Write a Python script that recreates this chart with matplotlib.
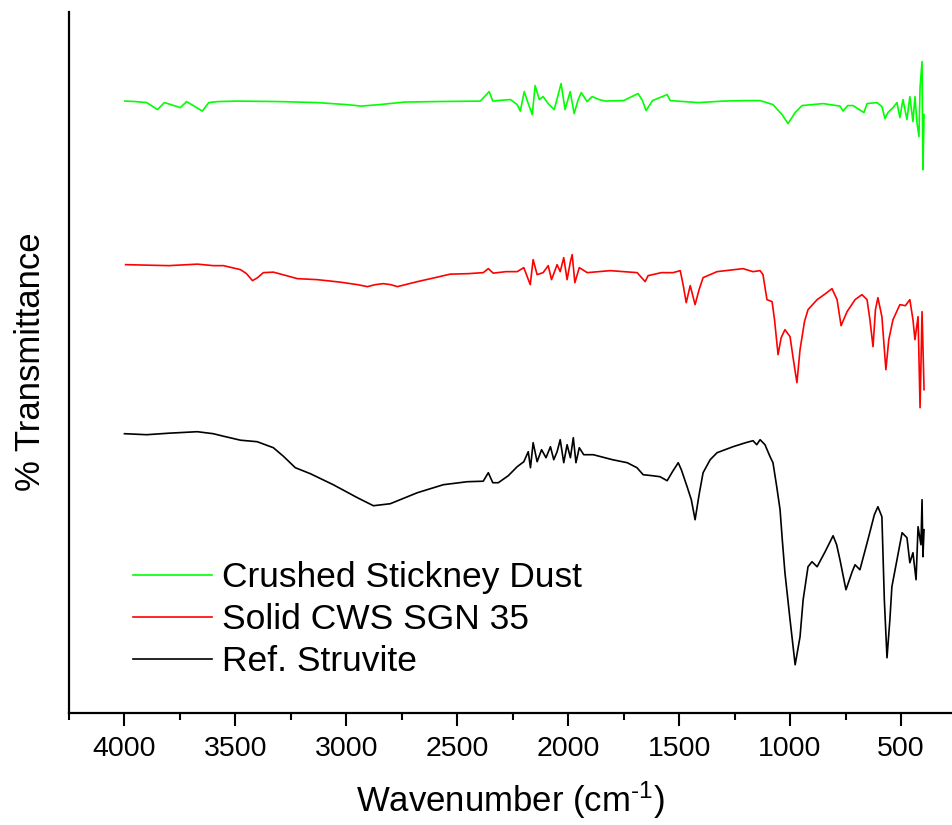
import matplotlib
matplotlib.use('Agg')
import matplotlib.pyplot as plt
from matplotlib.ticker import MultipleLocator

plt.rcParams['font.family'] = ['Liberation Sans', 'DejaVu Sans']
plt.rcParams['mathtext.fontset'] = 'custom'
plt.rcParams['mathtext.rm'] = 'Liberation Sans'
plt.rcParams['mathtext.it'] = 'Liberation Sans'

# wavenumber (cm-1) and relative transmittance (arbitrary offset units)
wn_struvite = [4000, 3900, 3800, 3672, 3600, 3554, 3477, 3402, 3329, 3284, 3230, 3162, 3059, 2950,
               2878, 2802, 2680, 2563, 2455, 2383, 2360, 2340, 2315, 2270, 2230, 2200, 2180, 2170,
               2158, 2140, 2120, 2100, 2080, 2065, 2050, 2036, 2020, 2005, 1990, 1977, 1965, 1950,
               1930, 1887, 1800, 1734, 1690, 1662, 1620, 1586, 1554, 1530, 1504, 1490, 1464, 1445,
               1428, 1410, 1392, 1360, 1329, 1257, 1200, 1167, 1150, 1135, 1113, 1090, 1077, 1060,
               1045, 1035, 1023, 1000, 977, 955, 941, 919, 901, 878, 842, 806, 790, 775, 748, 720,
               707, 685, 649, 620, 604, 586, 575, 563, 550, 541, 518, 495, 473, 460, 446, 432, 423,
               410, 405, 401, 396]
t_struvite = [279, 278, 279.5, 281, 279, 276.5, 272.5, 271, 265, 256.5, 245, 239, 228, 215,
              207, 209, 220, 228, 231, 231.5, 240, 230, 230, 237, 246, 251, 261, 245,
              270, 251, 263, 255, 266, 253, 261, 273, 250, 268, 255, 275, 250, 265,
              258, 258, 253, 250, 245, 238, 237, 236, 232, 241, 250, 243, 226, 213,
              193, 218, 240, 253, 260, 266, 270, 272, 268, 273, 268, 256, 250, 226,
              203, 173, 140, 93, 48, 76, 113, 146, 151, 146, 161, 177, 168, 153, 123, 141,
              148, 143, 173, 198, 206, 196, 113, 55, 93, 126, 153, 180, 175, 150, 160, 133, 186,
              168, 213, 156, 183]

wn_cws = [3995, 3900, 3800, 3671, 3600, 3554, 3477, 3450, 3423, 3400, 3374, 3329, 3270, 3221,
          3131, 3027, 2950, 2905, 2870, 2833, 2800, 2770, 2680, 2600, 2532, 2450, 2383, 2360,
          2338, 2280, 2230, 2200, 2171, 2158, 2140, 2113, 2090, 2075, 2050, 2036, 2020, 2005,
          1990, 1982, 1970, 1950, 1914, 1811, 1689, 1653, 1640, 1580, 1527, 1495, 1482, 1468,
          1450, 1428, 1410, 1392, 1329, 1212, 1167, 1135, 1122, 1104, 1081, 1070, 1054, 1040,
          1023, 1000, 985, 969, 955, 935, 919, 878, 840, 811, 788, 770, 743, 707, 676, 653,
          640, 626, 615, 604, 586, 568, 555, 536, 505, 480, 460, 446, 437, 423, 414, 405, 396]
t_cws = [448, 447.5, 447, 448.5, 447, 447, 443, 439, 432, 435, 440, 440.5, 437, 434,
         433, 430.5, 428, 426, 428, 429, 428, 426, 431, 435, 438.5, 439, 440, 444,
         439.5, 441, 441, 445, 428, 453, 438, 440, 447, 433, 448, 441, 455, 433,
         451, 458, 430, 445, 440, 442, 440, 431, 437, 440, 440, 442, 428, 410,
         427, 408, 423, 435, 441, 444, 441, 442, 438, 413, 411, 393, 358, 375,
         383, 376, 353, 330, 363, 391, 403, 413, 419, 424, 413, 387, 401, 413, 418, 413,
         393, 366, 403, 415, 396, 343, 373, 393, 408, 407, 413, 393, 373, 396, 305, 401, 323]

wn_dust = [3998, 3950, 3900, 3851, 3820, 3748, 3720, 3649, 3620, 3580, 3495, 3300, 3131, 3000,
           2932, 2850, 2739, 2600, 2396, 2356, 2340, 2320, 2260, 2230, 2216, 2198, 2180, 2162,
           2149, 2130, 2113, 2090, 2063, 2045, 2032, 2014, 1991, 1973, 1955, 1941, 1915, 1892,
           1860, 1833, 1750, 1685, 1665, 1649, 1620, 1554, 1540, 1414, 1300, 1194, 1135, 1077,
           1036, 1009, 977, 946, 851, 775, 761, 740, 716, 667, 653, 608, 586, 572, 559, 536,
           518, 505, 491, 473, 460, 446, 437, 428, 419, 414, 405, 401, 396]
t_dust = [611.5, 611, 610, 603, 610, 605, 611, 601.5, 610, 611, 611.5, 611, 610, 608,
          606.5, 608, 610.5, 611, 611.5, 621, 611.5, 612, 613, 608, 601.5, 621, 609, 598,
          627, 613, 616, 609, 603, 618, 629, 603, 621, 599, 613, 620, 611, 616,
          613, 611.5, 612, 619, 612, 602, 612, 618, 612, 610, 611.5, 612, 612, 608,
          598, 589, 600, 607, 609, 606.5, 601.5, 607, 607, 600, 609, 610, 606, 594, 600, 605,
          610, 595, 613, 593, 616, 591, 616, 590, 576, 625, 651, 543, 598]

fig = plt.figure(figsize=(9.52, 8.25), dpi=100)
ax = fig.add_axes([0.0725, 0.136, 0.9275, 0.85])

ax.plot(wn_dust, t_dust, color='#00ff00', lw=1.2, label='Crushed Stickney Dust')
ax.plot(wn_cws, t_cws, color='#ff0000', lw=1.2, label='Solid CWS SGN 35')
ax.plot(wn_struvite, t_struvite, color='black', lw=1.2, label='Ref. Struvite')

ax.set_xlim(4250, 270)
ax.set_ylim(0, 701)
ax.xaxis.set_major_locator(MultipleLocator(500))
ax.xaxis.set_minor_locator(MultipleLocator(250))
ax.set_yticks([])

for s in ['top', 'right']:
    ax.spines[s].set_visible(False)
for s in ['left', 'bottom']:
    ax.spines[s].set_linewidth(1.6)

ax.tick_params(axis='x', which='major', direction='out', length=9, width=1.5,
               labelsize=20.5, pad=8)
ax.tick_params(axis='x', which='minor', direction='out', length=5, width=1.5)

ax.set_xlabel(r'Wavenumber (cm$^{\text{-1}}$)', fontsize=25, labelpad=12)
ax.set_ylabel('% Transmittance', fontsize=25, labelpad=16)

ax.legend(loc='upper left', bbox_to_anchor=(0.072, 0.216), frameon=False, fontsize=25.5,
          handlelength=2.23, handletextpad=0.3, labelspacing=0.25, borderpad=0,
          borderaxespad=0)

plt.savefig('out.png', dpi=100)
